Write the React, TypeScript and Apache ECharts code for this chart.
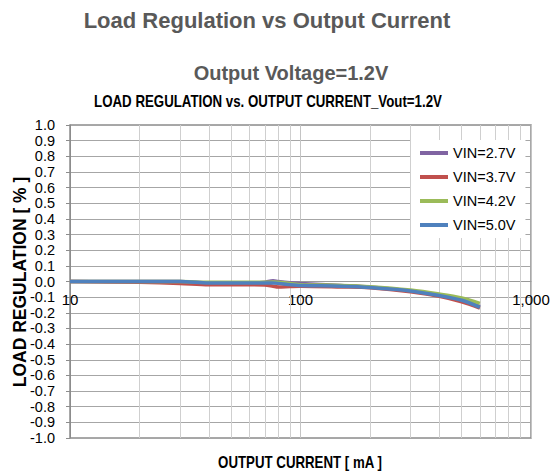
import React, { useEffect, useRef } from "react";
import * as echarts from "echarts";

const currents = [10, 20, 30, 40, 50, 60, 70, 76, 80, 90, 100, 150, 200, 300, 400, 500, 600];
const vin27 = [0, 0, 0, -0.01, -0.01, -0.01, -0.005, 0.005, 0.0, -0.008, -0.012, -0.025, -0.035, -0.06, -0.09, -0.12, -0.16];
const vin37 = [0, -0.005, -0.012, -0.02, -0.02, -0.02, -0.022, -0.03, -0.035, -0.032, -0.03, -0.035, -0.04, -0.065, -0.095, -0.13, -0.17];
const vin42 = [0, 0, 0, -0.005, -0.005, -0.005, -0.005, -0.003, -0.005, -0.012, -0.02, -0.025, -0.033, -0.055, -0.08, -0.105, -0.14];
const vin50 = [0, 0, 0, -0.01, -0.01, -0.01, -0.01, -0.01, -0.012, -0.02, -0.025, -0.03, -0.038, -0.06, -0.09, -0.12, -0.165];
const seriesNames = ["VIN=2.7V", "VIN=3.7V", "VIN=4.2V", "VIN=5.0V"];
const seriesColors = ["#8064a2", "#c0504d", "#9bbb59", "#4f81bd"];
const minorGrid = [20, 30, 40, 50, 60, 70, 80, 90, 200, 300, 400, 500, 600, 700, 800, 900];
const xTickLabels: Record<number, string> = { 10: "10", 100: "100", 1000: "1,000" };

const sans = '"Liberation Sans", Arial, sans-serif';

export default function App() {
  const ref = useRef<HTMLDivElement>(null);
  useEffect(() => {
    if (!ref.current) return;
    document.body.style.margin = "0";
    const chart = echarts.init(ref.current, undefined, { renderer: "svg" });
    const all = [vin27, vin37, vin42, vin50];
    const series: any[] = all.map((vals, i) => ({
      name: seriesNames[i],
      type: "line",
      data: currents.map((c, j) => [c, vals[j]]),
      showSymbol: false,
      symbol: "none",
      smooth: 0.3,
      lineStyle: { color: seriesColors[i], width: 3.5 },
      itemStyle: { color: seriesColors[i] },
      z: 3 + i,
    }));
    series[0].markLine = {
      silent: true,
      symbol: "none",
      label: { show: false },
      lineStyle: { color: "#cfcfcf", width: 1, type: "solid" },
      data: minorGrid.map((v) => ({ xAxis: v })),
      z: 1,
    };
    chart.setOption({
      animation: false,
      grid: {
        left: 70,
        right: 25,
        top: 125,
        height: 313,
        show: true,
        borderColor: "#8c8c8c",
        borderWidth: 1.5,
      },
      graphic: [
        {
          type: "text",
          x: 267,
          y: 20,
          style: {
            text: "Load Regulation vs Output Current",
            font: `bold 22px ${sans}`,
            fill: "#595959",
            textAlign: "center",
            textVerticalAlign: "middle",
          },
        },
        {
          type: "text",
          x: 291,
          y: 73,
          style: {
            text: "Output Voltage=1.2V",
            font: `bold 20px ${sans}`,
            fill: "#595959",
            textAlign: "center",
            textVerticalAlign: "middle",
          },
        },
        {
          type: "text",
          x: 268,
          y: 102,
          scaleX: 0.83,
          style: {
            text: "LOAD REGULATION vs. OUTPUT CURRENT_Vout=1.2V",
            font: `bold 16px ${sans}`,
            fill: "#000",
            textAlign: "center",
            textVerticalAlign: "middle",
          },
        },
        {
          type: "text",
          x: 300,
          y: 463,
          scaleX: 0.83,
          style: {
            text: "OUTPUT CURRENT [ mA ]",
            font: `bold 16px ${sans}`,
            fill: "#000",
            textAlign: "center",
            textVerticalAlign: "middle",
          },
        },
        {
          type: "text",
          x: 20,
          y: 282,
          rotation: Math.PI / 2,
          style: {
            text: "LOAD REGULATION [ % ]",
            font: `bold 17.5px ${sans}`,
            fill: "#000",
            textAlign: "center",
            textVerticalAlign: "middle",
          },
        },
      ],
      legend: {
        orient: "vertical",
        left: 411,
        top: 140,
        padding: [5, 10, 5, 9],
        backgroundColor: "#ffffff",
        itemWidth: 28,
        itemHeight: 4,
        itemGap: 8,
        icon: "rect",
        data: seriesNames,
        textStyle: { fontFamily: sans, fontSize: 14.5, lineHeight: 16, color: "#000" },
      },
      xAxis: {
        type: "log",
        logBase: 10,
        min: 10,
        max: 1000,
        position: "bottom",
        offset: -156.5,
        axisLine: { show: true, onZero: false, lineStyle: { color: "#999999", width: 1 } },
        axisTick: { show: false },
        axisLabel: {
          formatter: (v: number) => xTickLabels[Math.round(v)] ?? "",
          fontFamily: sans,
          fontSize: 15,
          color: "#000",
          margin: 10,
        },
        splitLine: { show: true, lineStyle: { color: "#c4c4c4", width: 1 } },
      },
      yAxis: {
        type: "value",
        min: -1,
        max: 1,
        interval: 0.1,
        axisLine: { show: true, onZero: false, lineStyle: { color: "#8c8c8c", width: 1 } },
        axisTick: { show: true, length: 4, lineStyle: { color: "#8c8c8c" } },
        axisLabel: {
          formatter: (v: number) => v.toFixed(1),
          fontFamily: sans,
          fontSize: 14.5,
          color: "#000",
          margin: 15,
          showMinLabel: true,
          showMaxLabel: true,
          hideOverlap: false,
        },
        splitLine: { show: true, lineStyle: { color: "#a6a6a6", width: 1 } },
      },
      series,
    });
    return () => chart.dispose();
  }, []);
  return <div ref={ref} style={{ width: 556, height: 474 }} />;
}
